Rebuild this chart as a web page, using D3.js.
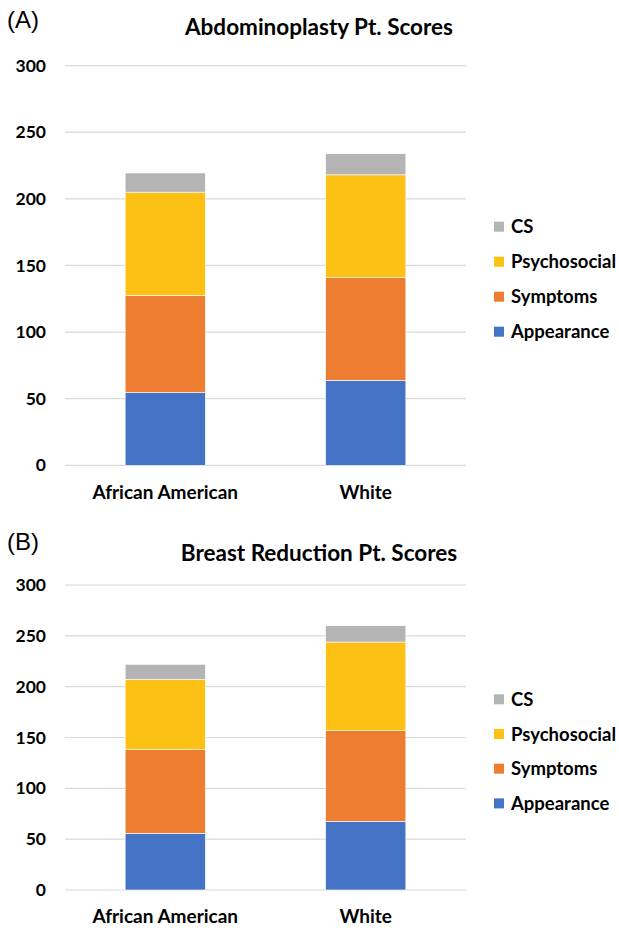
<!DOCTYPE html>
<html>
<head>
<meta charset="utf-8">
<script src="https://cdn.jsdelivr.net/npm/d3@7"></script>
<style>
  body { margin: 0; background: #fff; }
  svg text { font-family: Lato, "Open Sans", sans-serif; }
</style>
</head>
<body>
<div id="chart"></div>
<script>
// data
var categories = ["African American", "White"];
var seriesNames = ["Appearance", "Symptoms", "Psychosocial", "CS"];
var yTicks = [0, 50, 100, 150, 200, 250, 300];

var abdoAppearance = [54.5, 63.8];
var abdoSymptoms = [73.0, 77.0];
var abdoPsychosocial = [77.5, 77.2];
var abdoCS = [14.4, 15.9];

var breastAppearance = [55.8, 67.5];
var breastSymptoms = [82.2, 89.2];
var breastPsychosocial = [69.2, 87.2];
var breastCS = [14.8, 16.1];

var colors = {
  Appearance: "#4472c4",
  Symptoms: "#ed7d31",
  Psychosocial: "#fdc014",
  CS: "#b4b4b4"
};

var svg = d3.select("#chart").append("svg")
  .attr("width", 619)
  .attr("height", 934);

function buildRows(app, sym, psy, cs) {
  return categories.map(function(c, i) {
    return { name: c, Appearance: app[i], Symptoms: sym[i], Psychosocial: psy[i], CS: cs[i] };
  });
}

function drawPanel(opts) {
  var g = svg.append("g");
  var x = d3.scaleBand()
    .domain(categories)
    .range([65, 466])
    .paddingInner(0.6)
    .paddingOuter(0.3);
  var y = d3.scaleLinear()
    .domain([0, 300])
    .range([opts.bottom, opts.top]);

  // panel letter
  g.append("text")
    .attr("x", 7)
    .attr("y", opts.letterY)
    .style("font-family", "'Liberation Sans', Arial, sans-serif")
    .style("font-size", "24px")
    .text(opts.letter);

  g.append("text")
    .attr("x", 319)
    .attr("y", opts.titleY)
    .attr("text-anchor", "middle")
    .style("font-size", "22.5px")
    .style("font-weight", "bold")
    .text(opts.title);

  // grid
  g.append("g")
    .selectAll("line")
    .data(yTicks)
    .enter().append("line")
    .attr("x1", 65)
    .attr("x2", 466)
    .attr("y1", function(d) { return y(d); })
    .attr("y2", function(d) { return y(d); })
    .attr("stroke", "#d9d9d9")
    .attr("stroke-width", 1.2);

  var yAxis = g.append("g")
    .attr("transform", "translate(52,0)")
    .call(d3.axisLeft(y).tickValues(yTicks).tickSize(0).tickPadding(6));
  yAxis.select(".domain").remove();
  yAxis.selectAll("text")
    .style("font-family", "Lato, sans-serif")
    .style("font-size", "17.5px")
    .style("font-weight", "bold")
    .attr("fill", "#000");

  var xAxis = g.append("g")
    .attr("transform", "translate(0," + opts.bottom + ")")
    .call(d3.axisBottom(x).tickSize(0).tickPadding(20));
  xAxis.select(".domain").remove();
  xAxis.selectAll("text")
    .style("font-family", "Lato, sans-serif")
    .style("font-size", "19px")
    .style("font-weight", "bold")
    .attr("fill", "#000");

  var stacked = d3.stack().keys(seriesNames)(opts.rows);

  g.append("g")
    .selectAll("g")
    .data(stacked)
    .enter().append("g")
    .attr("fill", function(d) { return colors[d.key]; })
    .selectAll("rect")
    .data(function(d) { return d; })
    .enter().append("rect")
    .attr("x", function(d) { return x(d.data.name); })
    .attr("width", x.bandwidth())
    .attr("y", function(d) { return y(d[1]); })
    .attr("height", function(d) { return y(d[0]) - y(d[1]); })
    .attr("stroke", "#fff")
    .attr("stroke-width", 0.6);

  // legend, top entry is CS
  var legend = g.append("g")
    .selectAll("g")
    .data(seriesNames.slice().reverse())
    .enter().append("g")
    .attr("transform", function(d, i) { return "translate(494," + (opts.legendY + i * opts.legendStep) + ")"; });
  legend.append("rect")
    .attr("x", 0)
    .attr("y", -5)
    .attr("width", 10)
    .attr("height", 10)
    .attr("fill", function(d) { return colors[d]; });
  legend.append("text")
    .attr("x", 17)
    .attr("y", 6.5)
    .style("font-size", "18.5px")
    .style("font-weight", "bold")
    .text(function(d) { return d; });
}

drawPanel({
  letter: "(A)", letterY: 28,
  title: "Abdominoplasty Pt. Scores", titleY: 35,
  top: 65.6, bottom: 465.3,
  legendY: 226.7, legendStep: 35,
  rows: buildRows(abdoAppearance, abdoSymptoms, abdoPsychosocial, abdoCS)
});

drawPanel({
  letter: "(B)", letterY: 550,
  title: "Breast Reduction Pt. Scores", titleY: 560.5,
  top: 585, bottom: 890,
  legendY: 699.3, legendStep: 34.7,
  rows: buildRows(breastAppearance, breastSymptoms, breastPsychosocial, breastCS)
});
</script>
</body>
</html>
